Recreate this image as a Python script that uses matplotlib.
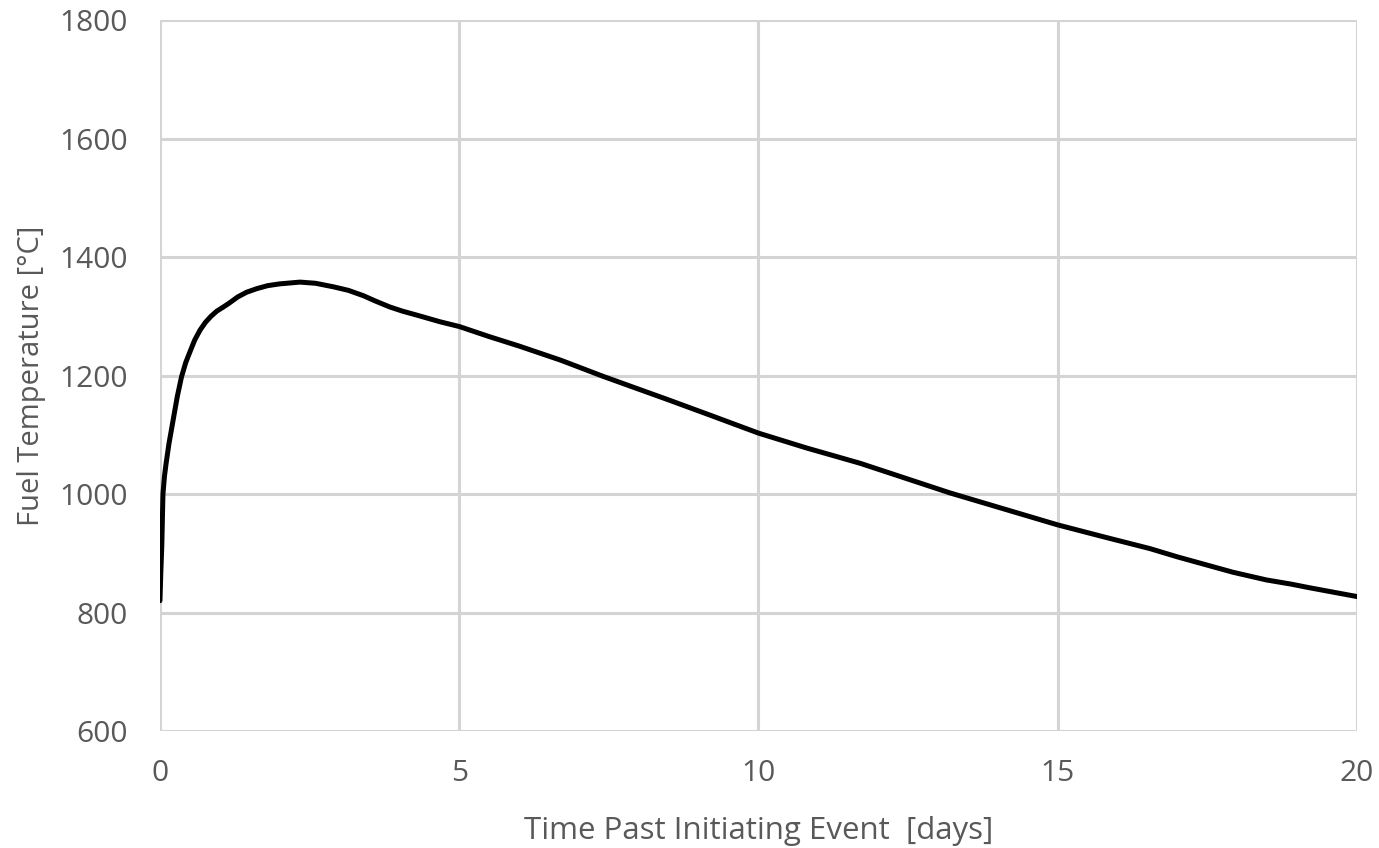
import matplotlib
matplotlib.use("Agg")
import matplotlib.pyplot as plt

# Data
time_days = [0, 0.015, 0.03, 0.05, 0.075, 0.1, 0.15, 0.22, 0.29, 0.36, 0.43, 0.5,
             0.58, 0.67, 0.76, 0.85, 0.95, 1.06, 1.15, 1.3, 1.45, 1.62, 1.8, 2.0,
             2.34, 2.6, 2.9, 3.15, 3.4, 3.6, 3.84, 4.05, 4.3, 4.68, 5, 5.5, 6,
             6.7, 7.4, 8.5, 9.2, 10, 10.8, 11.7, 12.36, 13.2, 14.1, 15, 15.8,
             16.54, 17, 17.93, 18.49, 18.9, 19.2, 20]
fuel_temp = [820, 870, 911, 1000, 1030, 1050, 1085, 1125, 1165, 1198, 1222, 1240,
             1260, 1277, 1290, 1300, 1309, 1316, 1322, 1333, 1341, 1347, 1352, 1355,
             1358, 1356, 1350, 1344, 1335, 1326, 1316, 1309, 1302, 1291, 1283, 1266, 1250,
             1226, 1199, 1159, 1133, 1103, 1078, 1052, 1030, 1002, 975, 948, 927,
             908, 894, 868, 855, 848, 842, 827]

x_ticks = [0, 5, 10, 15, 20]
y_ticks = [600, 800, 1000, 1200, 1400, 1600, 1800]

plt.rcParams['font.family'] = ['Open Sans', 'DejaVu Sans']
text_color = '#595959'
grid_color = '#d4d4d4'

fig = plt.figure(figsize=(13.79, 8.48), dpi=100)
ax = fig.add_axes([0.116, 0.138, 0.868, 0.838])

ax.plot(time_days, fuel_temp, color='black', lw=3.6, solid_capstyle='round',
        solid_joinstyle='round', zorder=3)

ax.set_xlim(0, 20)
ax.set_ylim(600, 1800)
ax.set_xticks(x_ticks)
ax.set_yticks(y_ticks)
ax.grid(True, color=grid_color, lw=2.2)
ax.set_axisbelow(True)
for s in ax.spines.values():
    s.set_visible(False)
ax.tick_params(length=0, labelsize=21.5, colors=text_color, pad=20)
ax.tick_params(axis='y', pad=23)

ax.set_xlabel('Time Past Initiating Event  [days]', fontsize=22.5, color=text_color, labelpad=20)
ax.set_ylabel('Fuel Temperature [°C]', fontsize=21, color=text_color, labelpad=10)

fig.savefig('out.png', dpi=100, facecolor='white')
